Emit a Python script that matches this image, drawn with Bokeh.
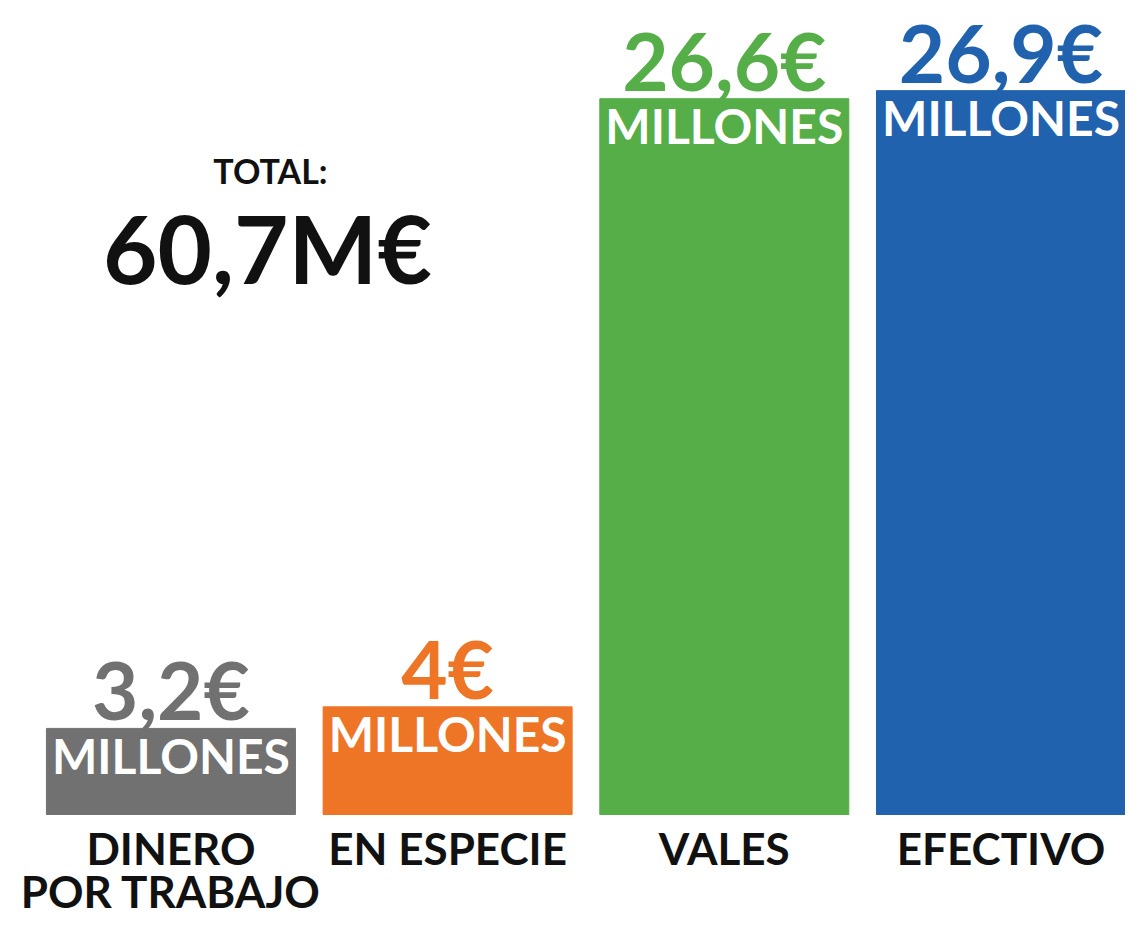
from bokeh.plotting import figure
from bokeh.models import ColumnDataSource, Range1d, Label
from bokeh.core.properties import value
from bokeh.embed import file_html
from bokeh.resources import INLINE

categories = ["DINERO\nPOR TRABAJO", "EN ESPECIE", "VALES", "EFECTIVO"]
values = [3.2, 4.0, 26.6, 26.9]
value_labels = ["3,2€", "4€", "26,6€", "26,9€"]
unit_labels = ["MILLONES", "MILLONES", "MILLONES", "MILLONES"]
colors = ["#717171", "#ee7526", "#56ae48", "#2062ae"]
total_title = "TOTAL:"
total_value = "60,7M€"

FONT = value("Lato")

line1 = [c.split("\n")[0] for c in categories]
line2 = [c.split("\n")[1] if "\n" in c else "" for c in categories]

src = ColumnDataSource(dict(
    x=list(range(len(categories))),
    top=values,
    l1=line1,
    l2=line2,
    vlab=value_labels,
    ulab=unit_labels,
    color=colors,
    zero=[0] * len(values),
))

p = figure(width=1125, height=920, output_backend="svg", toolbar_location=None,
           x_range=Range1d(-0.616, 3.45), y_range=Range1d(-3.939, 30.25),
           min_border=0, outline_line_color=None, background_fill_color="white",
           border_fill_color="white")
p.axis.visible = False
p.grid.visible = False

p.vbar(x="x", top="top", bottom=0, width=0.9, color="color", source=src)

# value labels above bars
p.text(x="x", y="top", text="vlab", source=src, text_color="color",
       text_font=FONT, text_font_style="bold", text_font_size="80px",
       text_align="center", text_baseline="alphabetic", y_offset=-39)

# MILLONES inside bars
p.text(x="x", y="top", text="ulab", source=src, text_color="white",
       text_font=FONT, text_font_style="bold", text_font_size="48px",
       text_align="center", text_baseline="alphabetic", y_offset=27)

# category labels below bars
p.text(x="x", y="zero", text="l1", source=src, text_color="#111111",
       text_font=FONT, text_font_style="bold", text_font_size="44px",
       text_align="center", text_baseline="alphabetic", y_offset=33)
p.text(x="x", y="zero", text="l2", source=src, text_color="#111111",
       text_font=FONT, text_font_style="bold", text_font_size="44px",
       text_align="center", text_baseline="alphabetic", y_offset=76)

p.add_layout(Label(x=270, y=750, x_units="screen", y_units="screen",
                   text=total_title, text_font="Lato", text_font_style="bold",
                   text_font_size="34px", text_color="#111111",
                   text_align="center", text_baseline="alphabetic"))
p.add_layout(Label(x=267, y=673, x_units="screen", y_units="screen",
                   text=total_value, text_font="Lato", text_font_style="bold",
                   text_font_size="94px", text_color="#111111",
                   text_align="center", text_baseline="alphabetic"))

open("out.html", "w").write(file_html(p, INLINE))
